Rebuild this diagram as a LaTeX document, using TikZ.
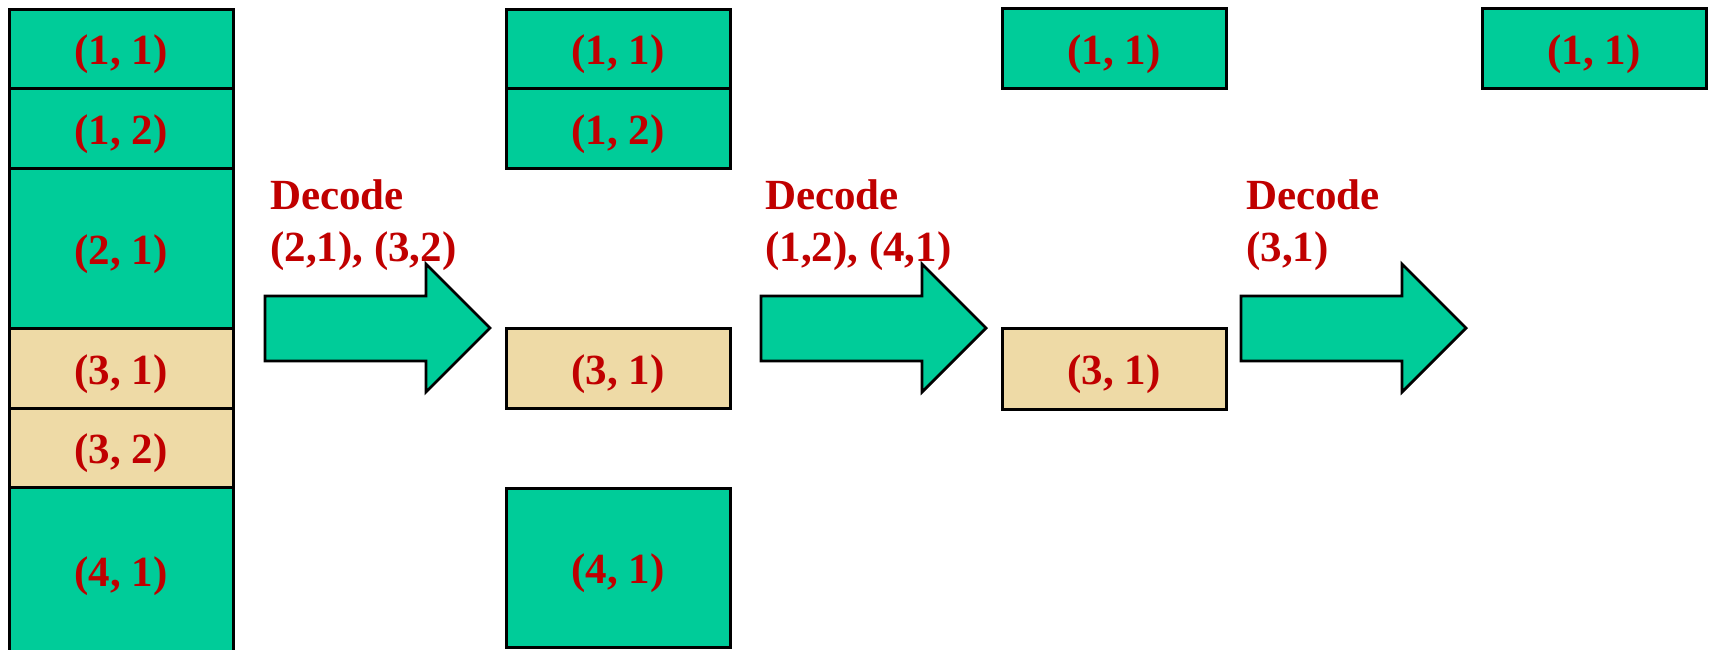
\documentclass[tikz,border=0pt]{standalone}
\usepackage{fontspec}
\setmainfont{Liberation Serif}
\definecolor{cellgreen}{RGB}{0,204,153}
\definecolor{papyrus}{RGB}{238,218,166}
\definecolor{labelred}{RGB}{192,0,0}
\tikzset{
  cell/.style={draw=black,line width=3pt,fill=cellgreen,text=labelred,minimum width=224pt,inner sep=0pt,text height=40pt,text depth=8pt,font=\fontsize{43}{50}\selectfont\bfseries},
  paper/.style={cell,fill=papyrus},
  declabel/.style={text=labelred,inner sep=0pt,anchor=base west,font=\fontsize{43}{50}\selectfont\bfseries},
  blockarrow/.style={draw=black,line width=2.8pt,fill=cellgreen,line join=miter}
}
\begin{document}
\begin{tikzpicture}[x=1pt,y=-1pt]
	\clip (0,0) rectangle (1712,649);
	\fill[white] (0,0) rectangle (1712,649);
	\node[cell,minimum height=79.5pt] (a11) at (121,48.75) {(1, 1)};
	\node[cell,minimum height=79.5pt] (a12) at (121,128.25) {(1, 2)};
	\node[cell,minimum height=160pt] (a21) at (121,248) {(2, 1)};
	\node[paper,minimum height=80pt] (a31) at (121,368) {(3, 1)};
	\node[paper,minimum height=79pt] (a32) at (121,447.5) {(3, 2)};
	\node[cell,minimum height=166pt] (a41) at (121,570) {(4, 1)};
	\node[cell,minimum height=79.5pt] (b11) at (618,48.75) {(1, 1)};
	\node[cell,minimum height=79.5pt] (b12) at (618,128.25) {(1, 2)};
	\node[paper,minimum height=80pt] (b31) at (618,368) {(3, 1)};
	\node[cell,minimum height=159pt] (b41) at (618,567.5) {(4, 1)};
	\node[cell,minimum height=80pt] (c11) at (1114,48.5) {(1, 1)};
	\node[paper,minimum height=81pt] (c31) at (1114,368.5) {(3, 1)};
	\node[cell,minimum height=80pt] (d11) at (1594,48.5) {(1, 1)};
	\foreach \x in {265,761,1241}
		\draw[blockarrow] (\x,296) -- (\x+161,296) -- (\x+161,264) -- (\x+225,328) -- (\x+161,392) -- (\x+161,361) -- (\x,361) -- cycle;
	\node[declabel] (dec1) at (270,209) {Decode};
	\node[declabel] (arg1) at (270,261) {(2,1), (3,2)};
	\node[declabel] (dec2) at (765,209) {Decode};
	\node[declabel] (arg2) at (765,261) {(1,2), (4,1)};
	\node[declabel] (dec3) at (1246,209) {Decode};
	\node[declabel] (arg3) at (1246,261) {(3,1)};
\end{tikzpicture}
\end{document}
